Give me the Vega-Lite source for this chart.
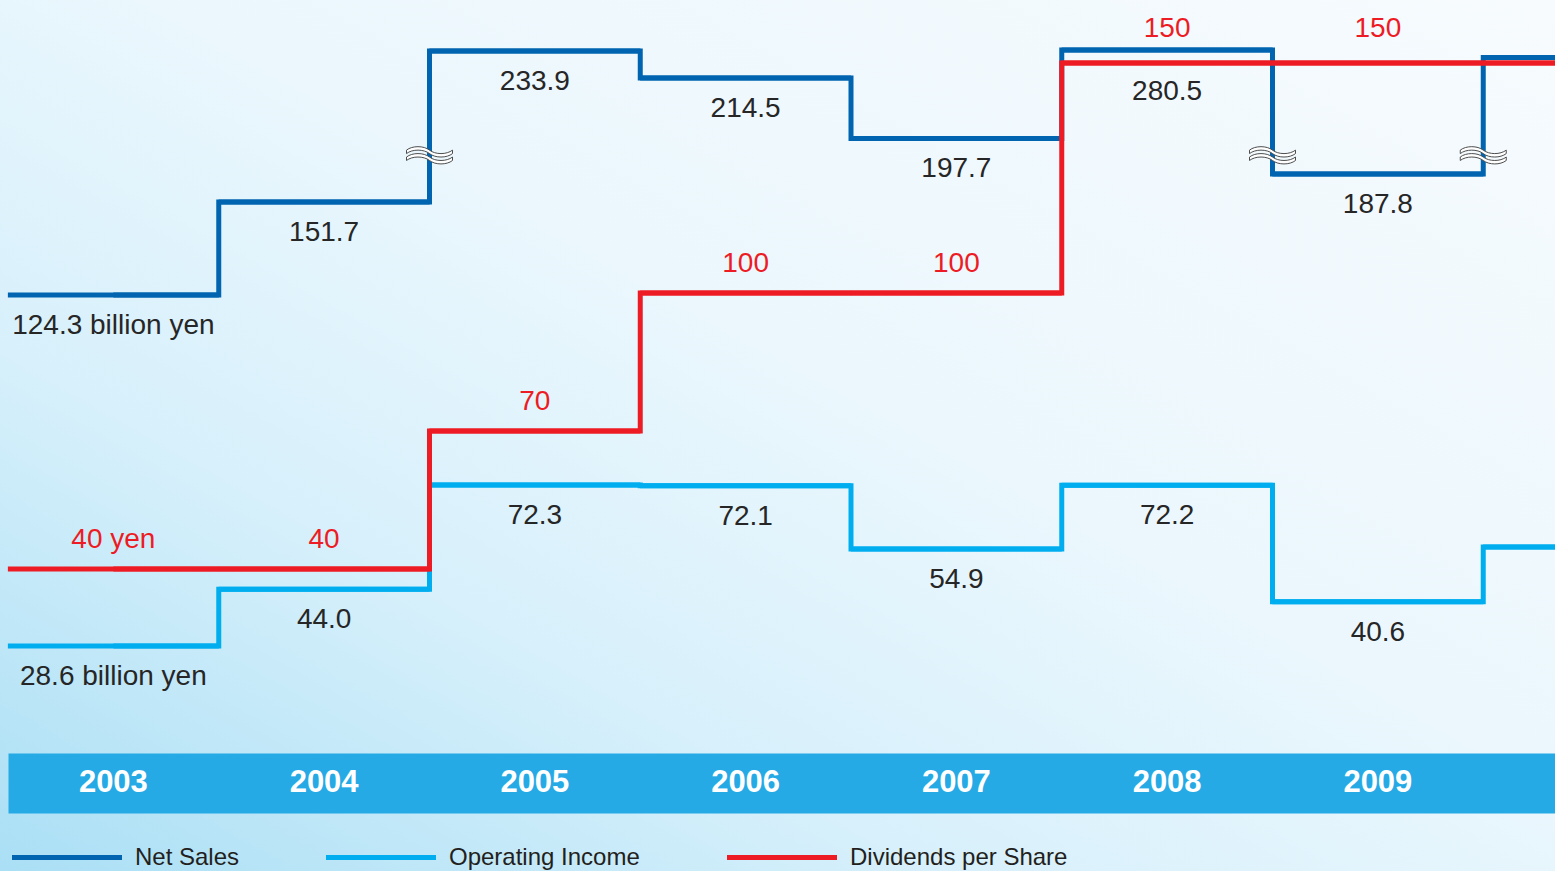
{
  "$schema": "https://vega.github.io/schema/vega-lite/v6.json",
  "width": 1555,
  "height": 871,
  "autosize": {"type": "none"},
  "padding": 0,
  "background": "#e6f5fc",
  "config": {
    "view": {
      "stroke": null,
      "fill": {
        "gradient": "linear",
        "x1": 0, "y1": 1, "x2": 1, "y2": 0,
        "stops": [
          {"offset": 0, "color": "#aadff5"},
          {"offset": 0.3, "color": "#d7f0fb"},
          {"offset": 0.55, "color": "#ebf7fd"},
          {"offset": 1, "color": "#f7fbfe"}
        ]
      }
    },
    "font": "Liberation Sans, Arial, sans-serif"
  },
  "data": {
    "values": [
      {"year": 2003, "series": "Net Sales", "value": 124.3, "label": "124.3 billion yen"},
      {"year": 2004, "series": "Net Sales", "value": 151.7, "label": "151.7"},
      {"year": 2005, "series": "Net Sales", "value": 233.9, "label": "233.9"},
      {"year": 2006, "series": "Net Sales", "value": 214.5, "label": "214.5"},
      {"year": 2007, "series": "Net Sales", "value": 197.7, "label": "197.7"},
      {"year": 2008, "series": "Net Sales", "value": 280.5, "label": "280.5"},
      {"year": 2009, "series": "Net Sales", "value": 187.8, "label": "187.8"},
      {"year": 2010, "series": "Net Sales", "value": 229.2, "label": ""},
      {"year": 2003, "series": "Operating Income", "value": 28.6, "label": "28.6 billion yen"},
      {"year": 2004, "series": "Operating Income", "value": 44.0, "label": "44.0"},
      {"year": 2005, "series": "Operating Income", "value": 72.3, "label": "72.3"},
      {"year": 2006, "series": "Operating Income", "value": 72.1, "label": "72.1"},
      {"year": 2007, "series": "Operating Income", "value": 54.9, "label": "54.9"},
      {"year": 2008, "series": "Operating Income", "value": 72.2, "label": "72.2"},
      {"year": 2009, "series": "Operating Income", "value": 40.6, "label": "40.6"},
      {"year": 2010, "series": "Operating Income", "value": 55.5, "label": ""},
      {"year": 2003, "series": "Dividends per Share", "value": 40, "label": "40 yen"},
      {"year": 2004, "series": "Dividends per Share", "value": 40, "label": "40"},
      {"year": 2005, "series": "Dividends per Share", "value": 70, "label": "70"},
      {"year": 2006, "series": "Dividends per Share", "value": 100, "label": "100"},
      {"year": 2007, "series": "Dividends per Share", "value": 100, "label": "100"},
      {"year": 2008, "series": "Dividends per Share", "value": 150, "label": "150"},
      {"year": 2009, "series": "Dividends per Share", "value": 150, "label": "150"},
      {"year": 2010, "series": "Dividends per Share", "value": 150, "label": ""}
    ]
  },
  "encoding": {
    "x": {
      "field": "year",
      "type": "ordinal",
      "scale": {
        "type": "band",
        "domain": [2003, 2004, 2005, 2006, 2007, 2008, 2009, 2010],
        "range": [8, 1694],
        "paddingInner": 0,
        "paddingOuter": 0
      },
      "axis": null
    },
    "color": {
      "field": "series",
      "type": "nominal",
      "scale": {
        "domain": ["Net Sales", "Operating Income", "Dividends per Share"],
        "range": ["#0064b0", "#00aeef", "#ed1c24"]
      },
      "legend": {
        "orient": "none",
        "legendX": 9.5,
        "legendY": 800,
        "direction": "horizontal",
        "title": null,
        "padding": 0,
        "symbolType": "stroke",
        "symbolSize": 12100,
        "symbolStrokeWidth": 5,
        "labelFont": "Liberation Sans, Arial, sans-serif",
        "labelFontSize": 24,
        "labelColor": "#231f20",
        "labelOffset": 10.5,
        "labelLimit": 400,
        "columnPadding": 76,
        "gridAlign": "none"
      }
    }
  },
  "layer": [
    {
      "encoding": {
        "x": {
          "field": "year",
          "type": "ordinal",
          "axis": {
            "orient": "bottom",
            "offset": -88,
            "values": [2003, 2004, 2005, 2006, 2007, 2008, 2009],
            "title": null,
            "grid": false,
            "domain": true,
            "domainColor": "#25aae6",
            "domainWidth": 60,
            "domainCap": "butt",
            "ticks": false,
            "labels": false,
            "zindex": 0
          }
        },
        "y": {
          "field": "value",
          "type": "quantitative",
          "scale": {
            "type": "linear",
            "domain": [124.3, 151.7, 187.8, 214.5, 233.9, 280.5],
            "range": [295, 202, 174, 78, 51, 50],
            "zero": false,
            "nice": false
          },
          "axis": null
        }
      },
      "layer": [
        {
          "transform": [{"filter": "datum.series === 'Net Sales'"}],
          "mark": {"type": "line", "interpolate": "step", "strokeWidth": 5, "strokeJoin": "miter"}
        },
        {
          "transform": [{"filter": "datum.series === 'Net Sales'"}],
          "mark": {"type": "tick", "orient": "horizontal", "size": 211, "thickness": 5, "opacity": 1}
        },
        {
          "transform": [{"filter": "datum.series === 'Net Sales' && datum.year !== 2008"}],
          "mark": {"type": "text", "baseline": "alphabetic", "dy": 39, "fontSize": 28},
          "encoding": {"text": {"field": "label"}, "color": {"value": "#262626"}}
        },
        {
          "transform": [{"filter": "datum.series === 'Net Sales' && datum.year === 2008"}],
          "mark": {"type": "text", "baseline": "alphabetic", "dy": 50, "fontSize": 28},
          "encoding": {"text": {"field": "label"}, "color": {"value": "#262626"}}
        }
      ]
    },
    {
      "encoding": {
        "y": {
          "field": "value",
          "type": "quantitative",
          "scale": {"type": "linear", "domain": [28.6, 72.3], "range": [646, 485], "zero": false, "nice": false},
          "axis": null
        }
      },
      "layer": [
        {
          "transform": [{"filter": "datum.series === 'Operating Income'"}],
          "mark": {"type": "line", "interpolate": "step", "strokeWidth": 5, "strokeJoin": "miter"}
        },
        {
          "transform": [{"filter": "datum.series === 'Operating Income'"}],
          "mark": {"type": "tick", "orient": "horizontal", "size": 211, "thickness": 5, "opacity": 1}
        },
        {
          "transform": [{"filter": "datum.series === 'Operating Income'"}],
          "mark": {"type": "text", "baseline": "alphabetic", "dy": 39, "fontSize": 28},
          "encoding": {"text": {"field": "label"}, "color": {"value": "#262626"}}
        }
      ]
    },
    {
      "encoding": {
        "x": {
          "field": "year",
          "type": "ordinal",
          "axis": {
            "orient": "bottom",
            "offset": -88,
            "values": [2003, 2004, 2005, 2006, 2007, 2008, 2009],
            "title": null,
            "grid": false,
            "domain": false,
            "ticks": false,
            "tickSize": 0,
            "labelFont": "Liberation Sans, Arial, sans-serif",
            "labelFontWeight": "bold",
            "labelFontSize": 31,
            "labelColor": "#ffffff",
            "labelBaseline": "middle",
            "labelPadding": -1,
            "labelOverlap": false,
            "labelAngle": 0,
            "zindex": 1
          }
        },
        "y": {
          "field": "value",
          "type": "quantitative",
          "scale": {"type": "linear", "domain": [40, 150], "range": [569, 63], "zero": false, "nice": false},
          "axis": null
        }
      },
      "layer": [
        {
          "transform": [{"filter": "datum.series === 'Dividends per Share'"}],
          "mark": {"type": "line", "interpolate": "step", "strokeWidth": 5, "strokeJoin": "miter"}
        },
        {
          "transform": [{"filter": "datum.series === 'Dividends per Share'"}],
          "mark": {"type": "tick", "orient": "horizontal", "size": 211, "thickness": 5, "opacity": 1}
        },
        {
          "transform": [{"filter": "datum.series === 'Dividends per Share' && datum.value < 150"}],
          "mark": {"type": "text", "baseline": "alphabetic", "dy": -21, "fontSize": 28},
          "encoding": {"text": {"field": "label"}, "color": {"value": "#ed1c24"}}
        },
        {
          "transform": [{"filter": "datum.series === 'Dividends per Share' && datum.value === 150"}],
          "mark": {"type": "text", "baseline": "alphabetic", "dy": -26, "fontSize": 28},
          "encoding": {"text": {"field": "label"}, "color": {"value": "#ed1c24"}}
        }
      ]
    },
    {
      "data": {"values": [{"year": 2005, "level": 193}, {"year": 2009, "level": 193}, {"year": 2010, "level": 193}]},
      "mark": {
        "type": "point",
        "shape": "M-1,-0.225C-0.75,-0.425,-0.25,-0.425,0,-0.225C0.25,-0.025,0.75,-0.025,1,-0.225L1,-0.075C0.75,0.125,0.25,0.125,0,-0.075C-0.25,-0.275,-0.75,-0.275,-1,-0.075ZM-1,0.075C-0.75,-0.125,-0.25,-0.125,0,0.075C0.25,0.275,0.75,0.275,1,0.075L1,0.225C0.75,0.425,0.25,0.425,0,0.225C-0.25,0.025,-0.75,0.025,-1,0.225Z",
        "size": 2116,
        "filled": true,
        "fill": "#ffffff",
        "stroke": "#4d4d4d",
        "strokeWidth": 1,
        "opacity": 1
      },
      "encoding": {
        "x": {"field": "year", "type": "ordinal", "bandPosition": 0, "axis": null},
        "y": {
          "field": "level",
          "type": "quantitative",
          "scale": {
            "type": "linear",
            "domain": [124.3, 151.7, 187.8, 214.5, 233.9, 280.5],
            "range": [295, 202, 174, 78, 51, 50],
            "zero": false,
            "nice": false
          },
          "axis": null
        },
        "color": null
      }
    }
  ],
  "resolve": {"scale": {"y": "independent"}, "axis": {"x": "independent"}}
}
